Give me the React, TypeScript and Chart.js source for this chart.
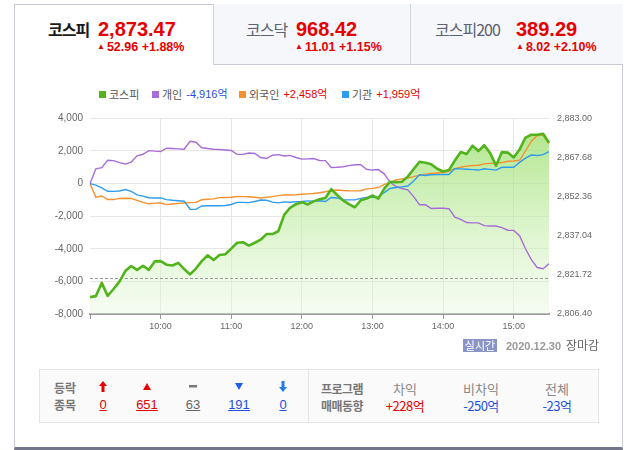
import React, { useEffect, useRef } from 'react';
import { Chart, registerables } from 'chart.js';

Chart.register(...registerables);

// ---- data (5-minute points, 09:00 .. 15:30) ----
const KOSPI = [
  2813.0, 2813.4, 2818.6, 2813.5, 2816.2, 2819.1, 2823.2, 2825.2, 2823.7, 2825.3,
  2823.7, 2827.0, 2827.1, 2825.7, 2825.4, 2826.4, 2824.0, 2821.9, 2824.2, 2827.1,
  2829.4, 2827.5, 2829.5, 2829.8, 2832.0, 2834.3, 2834.5, 2833.2, 2834.3, 2835.5,
  2837.7, 2837.7, 2838.8, 2845.2, 2848.0, 2849.4, 2850.2, 2849.3, 2850.5, 2851.3,
  2851.8, 2855.3, 2853.0, 2850.9, 2849.4, 2848.2, 2850.9, 2851.6, 2852.8, 2851.6,
  2855.5, 2858.2, 2858.0, 2858.2, 2860.2, 2863.2, 2866.0, 2865.6, 2865.0, 2863.3,
  2862.2, 2862.8, 2866.5, 2869.8, 2869.1, 2872.3, 2870.2, 2872.5, 2869.4, 2864.5,
  2869.8, 2869.6, 2867.7, 2870.8, 2875.5, 2876.6, 2876.6, 2877.0, 2873.47,
];
const INDIVIDUAL = [
  0, 905, 980, 1430, 1410, 1290, 1200, 1320, 1700, 1800,
  2020, 1990, 1970, 2170, 2150, 2130, 2110, 2600, 2540, 2200,
  2150, 2110, 2090, 2060, 2030, 1790, 1790, 1880, 1850, 1600,
  1540, 1740, 1780, 1690, 1730, 1600, 1500, 1520, 1540, 1420,
  1410, 990, 1000, 1030, 1100, 1160, 1165, 880, 830, 860,
  600, 80, -180, -300, -380, -800, -1300, -1300, -1530, -1510,
  -1510, -1540, -2060, -2200, -2390, -2410, -2410, -2580, -2600, -2600,
  -2700, -2860, -2870, -3200, -4000, -4660, -5150, -5220, -4916,
];
const FOREIGN = [
  0, -840, -760, -980, -980, -910, -900, -910, -1030, -1150,
  -1240, -1200, -1190, -1290, -1250, -1210, -1190, -1170, -1150, -990,
  -960, -940, -860, -850, -840, -790, -800, -810, -840, -880,
  -840, -800, -740, -690, -700, -680, -650, -630, -605, -560,
  -500, -420, -390, -420, -440, -445, -440, -320, -290, -240,
  -50, 80, 220, 290, 340, 430, 510, 580, 620, 650,
  680, 760, 920, 1000, 1070, 1110, 1130, 1210, 1240, 1265,
  1290, 1370, 1390, 1430, 2000, 2600, 2950, 2975, 2458,
];
const INSTITUTION = [
  0, -90, -260, -470, -480, -450, -360, -480, -690, -770,
  -870, -880, -880, -980, -1020, -1050, -1080, -1570, -1580, -1370,
  -1360, -1360, -1360, -1340, -1280, -1150, -1150, -1170, -1100, -1010,
  -1020, -1140, -1180, -1120, -1140, -1110, -1100, -1060, -1080, -1050,
  -1100, -850, -880, -990, -1000, -1000, -910, -850, -840, -840,
  -550, -300, -240, -200, -150, 160, 540, 500, 540, 550,
  560, 560, 910, 905, 880, 860, 830, 910, 870, 830,
  1000, 1010, 1005, 1300, 1560, 1750, 1720, 1780, 1959,
];
const LEFT_TICKS = [-8000, -6000, -4000, -2000, 0, 2000, 4000];
const RIGHT_TICKS = [2806.4, 2821.72, 2837.04, 2852.36, 2867.68, 2883.0];
const HOUR_LABELS = ['10:00', '11:00', '12:00', '13:00', '14:00', '15:00'];
const PREV_CLOSE = 2820.51;
const START_MINUTE = 9 * 60;
const STEP_MINUTES = 5;

const LEGEND_NAMES = ['코스피', '개인', '외국인', '기관'];
const LEGEND_NET = [null, -4916, 2458, 1959];

const TAB_NAMES = ['코스피', '코스닥', '코스피200'];
const TAB_VALUES = ['2,873.47', '968.42', '389.29'];
const TAB_CHANGES = ['52.96', '11.01', '8.02'];
const TAB_PCTS = ['+1.88%', '+1.15%', '+2.10%'];

const UPDOWN_COUNTS = [0, 651, 63, 191, 0];
const PROGRAM_LABELS = ['차익', '비차익', '전체'];
const PROGRAM_VALUES = [228, -250, -23];
const DATE_TEXT = '2020.12.30';

// ---- styling ----
const GREEN = '#52b41c';
const PURPLE = '#a86cd8';
const ORANGE = '#f5912e';
const BLUE = '#2e9cf0';
const RED = '#e60000';
const NAVY = '#1f4fe0';
const FONT = '"Liberation Sans", Arial, "Noto Sans CJK KR", sans-serif';
const KFONT = '"Noto Sans CJK KR", "Liberation Sans", sans-serif';

const pad2 = (n: number) => (n < 10 ? '0' : '') + n;
const TIME_LABELS = KOSPI.map((_, i) => {
  const m = START_MINUTE + i * STEP_MINUTES;
  return `${pad2(Math.floor(m / 60))}:${pad2(m % 60)}`;
});
const fmtSigned = (v: number) => (v > 0 ? '+' : '') + v.toLocaleString('en-US') + '억';

function IntradayChart() {
  const ref = useRef<HTMLCanvasElement>(null);
  useEffect(() => {
    const canvas = ref.current;
    if (!canvas) return;
    const prevClosePlugin = {
      id: 'prevClose',
      beforeDatasetsDraw(chart: any) {
        const { ctx, chartArea } = chart;
        const y = Math.round(chart.scales.y1.getPixelForValue(PREV_CLOSE)) + 0.5;
        ctx.save();
        ctx.strokeStyle = '#9a9a9a';
        ctx.lineWidth = 1;
        ctx.setLineDash([3, 2]);
        ctx.beginPath();
        ctx.moveTo(chartArea.left, y);
        ctx.lineTo(chartArea.right, y);
        ctx.stroke();
        ctx.restore();
      },
    };
    const gradient = (c: any) => {
      const chart = c.chart;
      const ca = chart.chartArea;
      if (!ca) return 'rgba(180,235,140,0.6)';
      const g = chart.ctx.createLinearGradient(0, ca.top, 0, ca.bottom);
      g.addColorStop(0, 'rgba(150,222,100,0.8)');
      g.addColorStop(1, 'rgba(230,248,220,0.4)');
      return g;
    };
    const line = (label: string, data: number[], color: string, order: number) => ({
      label,
      data,
      yAxisID: 'y',
      borderColor: color,
      borderWidth: 1.4,
      pointRadius: 0,
      tension: 0,
      fill: false,
      order,
    });
    const chart = new Chart(canvas, {
      type: 'line',
      data: {
        labels: TIME_LABELS,
        datasets: [
          {
            label: LEGEND_NAMES[0],
            data: KOSPI,
            yAxisID: 'y1',
            borderColor: GREEN,
            borderWidth: 2.6,
            borderJoinStyle: 'round',
            pointRadius: 0,
            tension: 0,
            fill: 'start',
            backgroundColor: gradient,
            order: 0,
          },
          line(LEGEND_NAMES[1], INDIVIDUAL, PURPLE, 3),
          line(LEGEND_NAMES[2], FOREIGN, ORANGE, 2),
          line(LEGEND_NAMES[3], INSTITUTION, BLUE, 1),
        ] as any,
      },
      options: {
        responsive: false,
        animation: false,
        devicePixelRatio: 1,
        layout: { padding: { top: 10, left: 0, right: 0, bottom: 0 } },
        plugins: {
          legend: { display: false },
          tooltip: { enabled: false },
          filler: { drawTime: 'beforeDatasetsDraw' } as any,
        },
        scales: {
          x: {
            type: 'category',
            offset: false,
            grid: {
              color: (c: any) => (c.index % 12 === 0 && c.index > 0 ? '#e6e6e6' : 'rgba(0,0,0,0)'),
              tickColor: (c: any) => (c.index % 12 === 0 ? '#9a9a9a' : 'rgba(0,0,0,0)'),
              tickLength: 5,
            },
            border: { display: true, color: '#9a9a9a', width: 2 },
            ticks: {
              autoSkip: false,
              maxRotation: 0,
              padding: 2,
              color: '#666',
              font: { size: 9, family: FONT },
              callback: (_v: any, i: number) => (HOUR_LABELS.includes(TIME_LABELS[i]) ? TIME_LABELS[i] : ''),
            },
            afterFit: (s: any) => {
              s.height = 26;
            },
          },
          y: {
            type: 'linear',
            position: 'left',
            min: -8000,
            max: 4000,
            afterBuildTicks: (s: any) => {
              s.ticks = LEFT_TICKS.map((v) => ({ value: v }));
            },
            grid: { color: '#e6e6e6', drawTicks: false },
            border: { display: false },
            ticks: {
              padding: 7,
              color: '#666',
              font: { size: 10, family: FONT },
              callback: (v: any) => Number(v).toLocaleString('en-US'),
            },
            afterFit: (s: any) => {
              s.width = 50;
            },
          },
          y1: {
            type: 'linear',
            position: 'right',
            min: RIGHT_TICKS[0],
            max: RIGHT_TICKS[RIGHT_TICKS.length - 1],
            afterBuildTicks: (s: any) => {
              s.ticks = RIGHT_TICKS.map((v) => ({ value: v }));
            },
            grid: { display: false, drawTicks: false },
            border: { display: false },
            ticks: {
              padding: 8,
              color: '#666',
              font: { size: 9, family: FONT },
              callback: (v: any) =>
                Number(v).toLocaleString('en-US', { minimumFractionDigits: 2, maximumFractionDigits: 2 }),
            },
            afterFit: (s: any) => {
              s.width = 51;
            },
          },
        },
      } as any,
      plugins: [prevClosePlugin],
    });
    return () => chart.destroy();
  }, []);
  return (
    <canvas
      ref={ref}
      width={560}
      height={235}
      style={{ position: 'absolute', left: 40, top: 105, width: 560, height: 235 }}
    />
  );
}

const abs = (left: number, top: number, extra: React.CSSProperties = {}): React.CSSProperties => ({
  position: 'absolute',
  left,
  top,
  whiteSpace: 'nowrap',
  lineHeight: 1,
  ...extra,
});

function Header() {
  const nameX = [48, 246, 435];
  const valX = [98, 296, 516];
  const subX = [97, 295, 516];
  return (
    <>
      <div style={abs(213, 4, { width: 197, height: 60, background: '#f6f7fa', borderLeft: '1px solid #d3d6de', borderBottom: '1px solid #c7cad3' })} />
      <div style={abs(410, 4, { width: 212, height: 60, background: '#f6f7fa', borderLeft: '1px solid #d3d6de', borderBottom: '1px solid #c7cad3' })} />
      {TAB_NAMES.map((n, i) => (
        <React.Fragment key={n}>
          <div
            style={abs(nameX[i], 21, {
              fontFamily: KFONT,
              fontSize: 16,
              fontWeight: i === 0 ? 700 : 400,
              color: i === 0 ? '#1a1a1a' : '#5d6274',
              letterSpacing: -1,
            })}
          >
            {n}
          </div>
          <div style={abs(valX[i], 19, { fontFamily: FONT, fontSize: 20, fontWeight: 700, color: RED })}>
            {TAB_VALUES[i]}
          </div>
          <div style={abs(subX[i], 41, { fontFamily: FONT, fontSize: 12.5, fontWeight: 700, color: RED })}>
            <span style={{ fontSize: 8, verticalAlign: 2, marginRight: 2 }}>▲</span>
            {TAB_CHANGES[i]} {TAB_PCTS[i]}
          </div>
        </React.Fragment>
      ))}
    </>
  );
}

function Legend() {
  const colors = [GREEN, PURPLE, ORANGE, BLUE];
  const sqX = [99, 152, 239, 342];
  return (
    <>
      {LEGEND_NAMES.map((n, i) => {
        const net = LEGEND_NET[i];
        return (
          <div key={n} style={abs(sqX[i], 89, { display: 'flex', alignItems: 'center', fontFamily: KFONT, fontSize: 11, color: '#555' })}>
            <span style={{ display: 'inline-block', width: 7, height: 7, background: colors[i], marginRight: 3 }} />
            <span>{n}</span>
            {net !== null && (
              <span style={{ marginLeft: 4, color: net < 0 ? NAVY : RED, fontFamily: FONT }}>
                {fmtSigned(net as number)}
              </span>
            )}
          </div>
        );
      })}
    </>
  );
}

const Icon = ({ kind }: { kind: number }) => {
  if (kind === 0)
    return (
      <svg width="8" height="11" viewBox="0 0 8 11">
        <path d="M4 0 L8 5 L5.5 5 L5.5 11 L2.5 11 L2.5 5 L0 5 Z" fill={RED} />
      </svg>
    );
  if (kind === 1)
    return (
      <svg width="8" height="7" viewBox="0 0 8 7">
        <path d="M4 0 L8 7 L0 7 Z" fill={RED} />
      </svg>
    );
  if (kind === 2)
    return (
      <svg width="8" height="3" viewBox="0 0 8 3">
        <rect x="0" y="0" width="8" height="2.5" fill="#777" />
      </svg>
    );
  if (kind === 3)
    return (
      <svg width="8" height="7" viewBox="0 0 8 7">
        <path d="M0 0 L8 0 L4 7 Z" fill="#1f5ee8" />
      </svg>
    );
  return (
    <svg width="8" height="11" viewBox="0 0 8 11">
      <path d="M2.5 0 L5.5 0 L5.5 6 L8 6 L4 11 L0 6 L2.5 6 Z" fill="#1f7ee8" />
    </svg>
  );
};

function Stats() {
  const cx = [103, 147, 193, 239, 283];
  const numColors = [RED, RED, '#666', NAVY, NAVY];
  const progX = [405, 481, 557];
  const cell = (x: number, cy: number, content: React.ReactNode, extra: React.CSSProperties = {}) => (
    <div
      style={{
        position: 'absolute',
        left: x - 40,
        top: cy - 8,
        width: 80,
        height: 16,
        display: 'flex',
        alignItems: 'center',
        justifyContent: 'center',
        whiteSpace: 'nowrap',
        ...extra,
      }}
    >
      {content}
    </div>
  );
  return (
    <>
      <div style={abs(39, 369, { width: 558, height: 52, background: '#fafafa', border: '1px solid #e4e4e4' })} />
      <div style={abs(308, 370, { width: 1, height: 52, background: '#e4e4e4' })} />
      {cell(65, 387, '등락', { fontFamily: KFONT, fontSize: 12, fontWeight: 700, color: '#777' })}
      {cell(65, 404, '종목', { fontFamily: KFONT, fontSize: 12, fontWeight: 700, color: '#777' })}
      {UPDOWN_COUNTS.map((n, i) => (
        <React.Fragment key={i}>
          {cell(cx[i], 386, <Icon kind={i} />)}
          {cell(cx[i], 404, <span style={{ textDecoration: 'underline' }}>{n}</span>, {
            fontFamily: FONT,
            fontSize: 13,
            color: numColors[i],
          })}
        </React.Fragment>
      ))}
      {cell(342, 388, '프로그램', { fontFamily: KFONT, fontSize: 12, fontWeight: 700, color: '#777', letterSpacing: -0.5 })}
      {cell(342, 405, '매매동향', { fontFamily: KFONT, fontSize: 12, fontWeight: 700, color: '#777', letterSpacing: -0.5 })}
      {PROGRAM_LABELS.map((l, i) => (
        <React.Fragment key={l}>
          {cell(progX[i], 388, l, { fontFamily: KFONT, fontSize: 13, color: '#888' })}
          {cell(progX[i], 405, fmtSigned(PROGRAM_VALUES[i]), {
            fontFamily: KFONT,
            fontSize: 13,
            color: PROGRAM_VALUES[i] < 0 ? NAVY : RED,
            letterSpacing: -0.5,
          })}
        </React.Fragment>
      ))}
    </>
  );
}

export default function App() {
  return (
    <div style={{ position: 'absolute', left: 0, top: 0, width: 626, height: 450, background: '#fff', overflow: 'hidden' }}>
      <div
        style={{
          position: 'absolute',
          left: 14,
          top: 4,
          width: 609,
          height: 446,
          boxSizing: 'border-box',
          border: '1px solid #c7cad3',
          borderBottom: '3px solid #71768a',
        }}
      />
      <Header />
      <Legend />
      <IntradayChart />
      <div
        style={abs(463, 339, {
          width: 34,
          height: 13,
          background: '#8a94c6',
          color: '#fff',
          fontFamily: KFONT,
          fontSize: 11,
          display: 'flex',
          alignItems: 'center',
          justifyContent: 'center',
        })}
      >
        실시간
      </div>
      <div style={abs(506, 341, { fontFamily: FONT, fontSize: 11, fontWeight: 700, color: '#9a9a9a' })}>{DATE_TEXT}</div>
      <div style={abs(566, 339, { fontFamily: KFONT, fontSize: 12, color: '#666' })}>장마감</div>
      <Stats />
    </div>
  );
}
